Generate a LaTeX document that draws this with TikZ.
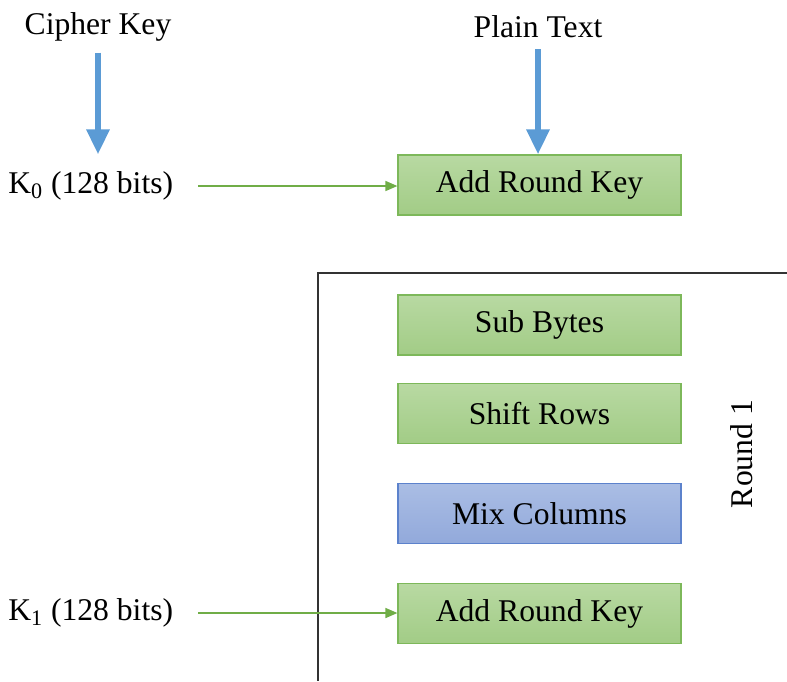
\documentclass[tikz,border=0pt]{standalone}
\usepackage{fontspec}
\setmainfont{Liberation Serif}
\usetikzlibrary{arrows.meta}

\definecolor{boxgreentop}{HTML}{B8D9A2}
\definecolor{boxgreenbot}{HTML}{A2CC86}
\definecolor{boxgreenline}{HTML}{7DB85A}
\definecolor{boxbluetop}{HTML}{AABDE4}
\definecolor{boxbluebot}{HTML}{92A9DB}
\definecolor{boxblueline}{HTML}{5C82CC}
\definecolor{inblue}{HTML}{5B9BD5}
\definecolor{keygreen}{HTML}{70AD47}

\tikzset{
	txt/.style={inner sep=0pt, font=\fontsize{18}{20}\selectfont},
	stepbox/.style={txt, draw=boxgreenline, line width=0.7pt, top color=boxgreentop, bottom color=boxgreenbot, minimum width=5.66cm, minimum height=1.2cm},
	mixbox/.style={stepbox, draw=boxblueline, top color=boxbluetop, bottom color=boxbluebot},
	inarrow/.style={draw=inblue, line width=3.4pt, -{Triangle[length=0.5cm, width=0.44cm]}},
	keyarrow/.style={draw=keygreen, line width=0.85pt, -{Triangle[length=0.24cm, width=0.2cm]}}
}

\begin{document}
\begin{tikzpicture}[x=0.02cm, y=-0.02cm]
				\useasboundingbox (0, 0) rectangle (787, 681);
				
				% inputs
				\node[txt] (cipher) at (98, 27) {Cipher Key};
				\node[txt] (plain) at (538, 27) {Plain Text};
				\node[txt, anchor=west] (k0) at (8, 186) {K\textsubscript{0} (128 bits)};
				\node[txt, anchor=west] (k1) at (8, 613) {K\textsubscript{1} (128 bits)};
				
				% initial round
				\node[stepbox] (ark0) at (539.5, 185) {Add Round Key};
				
				% round 1
				\draw[draw=black!80, line width=0.85pt] (787, 273) -- (318, 273) -- (318, 681);
				\node[stepbox] (sub) at (539.5, 325) {Sub Bytes};
				\node[stepbox] (shift) at (539.5, 413.5) {Shift Rows};
				\node[mixbox] (mix) at (539.5, 513.5) {Mix Columns};
				\node[stepbox] (ark1) at (539.5, 613.5) {Add Round Key};
				\node[txt, rotate=90] (round) at (742, 454) {Round 1};
				
				% arrows
				\draw[inarrow, shorten <=0.22cm] (cipher.south) -- (cipher.south |- ark0.north);
				\draw[inarrow, shorten <=0.22cm] (plain.south) -- (plain.south |- ark0.north);
				\draw[keyarrow, shorten <=0.5cm] (k0.east) -- (k0.east -| ark0.west);
				\draw[keyarrow, shorten <=0.5cm] (k1.east) -- (k1.east -| ark1.west);
\end{tikzpicture}
\end{document}
